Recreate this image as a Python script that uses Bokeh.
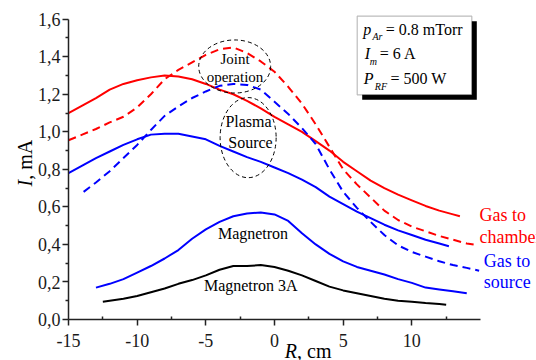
from math import pi
from bokeh.plotting import figure
from bokeh.models import Range1d, FixedTicker, CustomJSTickFormatter, Label, BoxAnnotation
from bokeh.embed import file_html
from bokeh.resources import INLINE

# ---------------- data ----------------
# Gas to chamber, solid (plasma source) and dashed (joint operation)
red_solid_x = [-15, -14, -13, -12, -11, -10, -9, -8, -7, -6, -5, -4, -3, -2, -1, 0,
               1, 2, 3, 4, 5, 6, 7, 8, 9, 10, 11, 12, 13, 13.5]
red_solid_y = [1.10, 1.14, 1.18, 1.225, 1.255, 1.275, 1.29, 1.30, 1.295, 1.28, 1.255, 1.225,
               1.20, 1.165, 1.125, 1.08, 1.04, 1.00, 0.95, 0.90, 0.84, 0.79, 0.74, 0.70,
               0.665, 0.635, 0.605, 0.58, 0.56, 0.55]

red_dash_x = [-15, -14, -13, -12, -11, -10, -9, -8, -7, -6, -5, -4, -3, -2, -1, 0,
              1, 2, 3, 4, 5, 6, 7, 8, 9, 10, 11, 12, 13, 14, 14.5]
red_dash_y = [0.955, 0.985, 1.015, 1.05, 1.08, 1.13, 1.20, 1.28, 1.33, 1.37, 1.41, 1.44,
              1.45, 1.42, 1.375, 1.32, 1.24, 1.15, 1.04, 0.92, 0.80, 0.72, 0.65, 0.58,
              0.53, 0.495, 0.47, 0.445, 0.425, 0.405, 0.40]

# Gas to source
blue_solid_x = [-15, -14, -13, -12, -11, -10, -9, -8, -7, -6, -5, -4, -3, -2, -1, 0,
                1, 2, 3, 4, 5, 6, 7, 8, 9, 10, 11, 12, 12.7]
blue_solid_y = [0.78, 0.82, 0.86, 0.895, 0.93, 0.96, 0.985, 0.99, 0.99, 0.975, 0.96, 0.925,
                0.895, 0.865, 0.84, 0.81, 0.78, 0.745, 0.705, 0.655, 0.615, 0.575, 0.54,
                0.505, 0.475, 0.45, 0.425, 0.405, 0.39]

blue_dash_x = [-13.9, -13, -12, -11, -10, -9, -8, -7, -6, -5, -4, -3, -2, -1, 0,
               1, 2, 3, 4, 5, 6, 7, 8, 9, 10, 11, 12, 13, 14, 14.9]
blue_dash_y = [0.68, 0.73, 0.79, 0.86, 0.93, 1.01, 1.085, 1.135, 1.18, 1.215, 1.245, 1.255,
               1.25, 1.225, 1.16, 1.095, 1.02, 0.935, 0.80, 0.68, 0.595, 0.52, 0.45, 0.395,
               0.36, 0.335, 0.31, 0.29, 0.275, 0.26]

# Magnetron (6 A) and Magnetron 3A
magn_x = [-13, -12, -11, -10, -9, -8, -7, -6, -5, -4, -3, -2, -1, 0,
          1, 2, 3, 4, 5, 6, 7, 8, 9, 10, 11, 12, 13, 14]
magn_y = [0.17, 0.19, 0.215, 0.25, 0.285, 0.325, 0.37, 0.43, 0.48, 0.52, 0.55, 0.565,
          0.57, 0.56, 0.525, 0.46, 0.40, 0.35, 0.31, 0.28, 0.26, 0.24, 0.215, 0.195,
          0.17, 0.16, 0.15, 0.14]

magn3_x = [-12.5, -11, -10, -9, -8, -7, -6, -5, -4, -3, -2, -1, 0,
           1, 2, 3, 4, 5, 6, 7, 8, 9, 10, 11, 12, 12.5]
magn3_y = [0.095, 0.11, 0.125, 0.145, 0.165, 0.19, 0.21, 0.235, 0.265, 0.285, 0.285, 0.29,
           0.28, 0.26, 0.235, 0.205, 0.175, 0.155, 0.14, 0.125, 0.11, 0.10, 0.095, 0.088,
           0.082, 0.078]

x_ticks = [-15, -10, -5, 0, 5, 10]
x_tick_labels = ["-15", "-10", "-5", "0", "5", "10"]
x_minor = [-12.5, -7.5, -2.5, 2.5, 7.5, 12.5]
y_ticks = [0.0, 0.2, 0.4, 0.6, 0.8, 1.0, 1.2, 1.4, 1.6]
y_tick_labels = ["0,0", "0,2", "0,4", "0,6", "0,8", "1,0", "1,2", "1,4", "1,6"]
y_minor = [0.1, 0.3, 0.5, 0.7, 0.9, 1.1, 1.3, 1.5]

# ---------------- layout ----------------
FONT = "Liberation Serif"
W, H = 536, 360
ORIG_PX, ORIG_PY = 68.0, 319.0      # pixel position of (-15, 0)
SX, SY = 13.7333, 187.69            # pixels per data unit
X0 = -15 - ORIG_PX / SX
X1 = X0 + W / SX
Y1 = 1.6 + (ORIG_PY - SY * 1.6) / SY
Y0 = Y1 - H / SY


def X(px):
    return X0 + px / SX


def Y(py):
    return Y1 - py / SY


p = figure(width=W, height=H, output_backend="svg", toolbar_location=None,
           x_range=Range1d(X0, X1), y_range=Range1d(Y0, Y1),
           min_border=0, min_border_left=0, min_border_right=0,
           min_border_top=0, min_border_bottom=0)
p.outline_line_color = None
p.grid.visible = False
p.background_fill_color = "white"
p.border_fill_color = "white"

xa = p.xaxis[0]
xa.fixed_location = 0
xa.bounds = (-15, 15)
xa.ticker = FixedTicker(ticks=x_ticks, minor_ticks=x_minor)
xa.major_tick_out = 6
xa.major_tick_in = 0
xa.minor_tick_out = 0
xa.minor_tick_in = 3

ya = p.yaxis[0]
ya.fixed_location = -15
ya.bounds = (0, 1.6)
ya.ticker = FixedTicker(ticks=y_ticks, minor_ticks=y_minor)
ya.major_tick_out = 6
ya.major_tick_in = 0
ya.minor_tick_out = 3
ya.minor_tick_in = 0

for ax in (xa, ya):
    # tick labels are drawn below as serif Labels at the tick values
    ax.formatter = CustomJSTickFormatter(code="return ''")
    ax.axis_line_width = 1.5
    ax.axis_line_color = "#222222"
    ax.major_tick_line_width = 1.5
    ax.minor_tick_line_width = 1.5
    ax.major_tick_line_color = "#222222"
    ax.minor_tick_line_color = "#222222"

RED = "#ff0000"
BLUE = "#0000ff"
p.line(red_solid_x, red_solid_y, line_color=RED, line_width=2)
p.line(red_dash_x, red_dash_y, line_color=RED, line_width=2, line_dash="8 5")
p.line(blue_solid_x, blue_solid_y, line_color=BLUE, line_width=2)
p.line(blue_dash_x, blue_dash_y, line_color=BLUE, line_width=2, line_dash="8 5")
p.line(magn_x, magn_y, line_color=BLUE, line_width=2)
p.line(magn3_x, magn3_y, line_color="black", line_width=2)

# dashed ellipses marking the groups
ell_x = [-2.9, -1.92]
ell_y = [1.348, 0.969]
ell_w = [5.24, 4.08]
ell_h = [0.283, 0.427]
p.ellipse(x=ell_x, y=ell_y, width=ell_w, height=ell_h, fill_color=None,
          line_color="black", line_width=1, line_dash="4 3")


def label(x, y, text, size, color="black", style="normal", align="left",
          baseline="alphabetic", angle=0):
    # the SVG output draws alphabetic-baseline text about a third of an em low
    y_off = 0.33 * float(size.replace("px", "")) if baseline == "alphabetic" else 0
    p.add_layout(Label(x=x, y=y, text=text, text_font=FONT, y_offset=y_off,
                       text_font_size=size, text_color=color, text_font_style=style,
                       text_align=align, text_baseline=baseline, angle=angle))


def lab(px, py, text, size, **kw):
    label(X(px), Y(py), text, size, **kw)


# tick labels at the tick values
for t, s in zip(x_ticks, x_tick_labels):
    label(t, Y(346), s, "18px", color="#1a1a1a", align="center")
for t, s in zip(y_ticks, y_tick_labels):
    label(X(60), t - 6 / SY, s, "18px", color="#1a1a1a", align="right")

# parameter box with shadow
p.add_layout(BoxAnnotation(left=X(361.7), right=X(476.3), top=Y(20.7), bottom=Y(99.3),
                           fill_color="black", fill_alpha=1, line_color=None))
p.add_layout(BoxAnnotation(left=X(356.7), right=X(471.3), top=Y(15.7), bottom=Y(94.3),
                           fill_color="white", fill_alpha=1, line_color="#222222",
                           line_width=1.2))
lab(362.7, 34, "p", "16px", style="italic")
lab(372, 39.3, "Ar", "10px", style="italic")
lab(385.3, 34, "= 0.8 mTorr", "16px")
lab(364.3, 58, "I", "16px", style="italic")
lab(369.3, 64, "m", "10px", style="italic")
lab(379.3, 58, "= 6 A", "16px")
lab(363.3, 83.3, "P", "16px", style="italic")
lab(374.3, 89.3, "RF", "10px", style="italic")
lab(390, 83.3, "= 500 W", "16px")

# curve annotations
lab(234.5, 63.3, "Joint", "15px", align="center")
lab(234.5, 81.7, "operation", "15px", align="center")
lab(248, 126.7, "Plasma", "16px", align="center")
lab(250, 147.3, "Source", "16px", align="center")
lab(252.5, 238.5, "Magnetron", "16px", align="center")
lab(250.3, 290, "Magnetron 3A", "16px", align="center")
lab(479, 220, "Gas to", "18px", color=RED)
lab(479, 242.5, "chamber", "18px", color=RED)
lab(483.3, 266, "Gas to", "18px", color=BLUE)
lab(483.3, 287.3, "source", "18px", color=BLUE)

# axis titles
lab(284.3, 357.5, "R", "20px", style="italic")
lab(296.5, 357.5, ", cm", "20px")
lab(24.5, 182.7, "I", "20px", style="italic", align="center", baseline="middle",
    angle=pi / 2)
lab(24.5, 159.3, ", mA", "20px", align="center", baseline="middle", angle=pi / 2)

open("out.html", "w").write(file_html(p, INLINE))
